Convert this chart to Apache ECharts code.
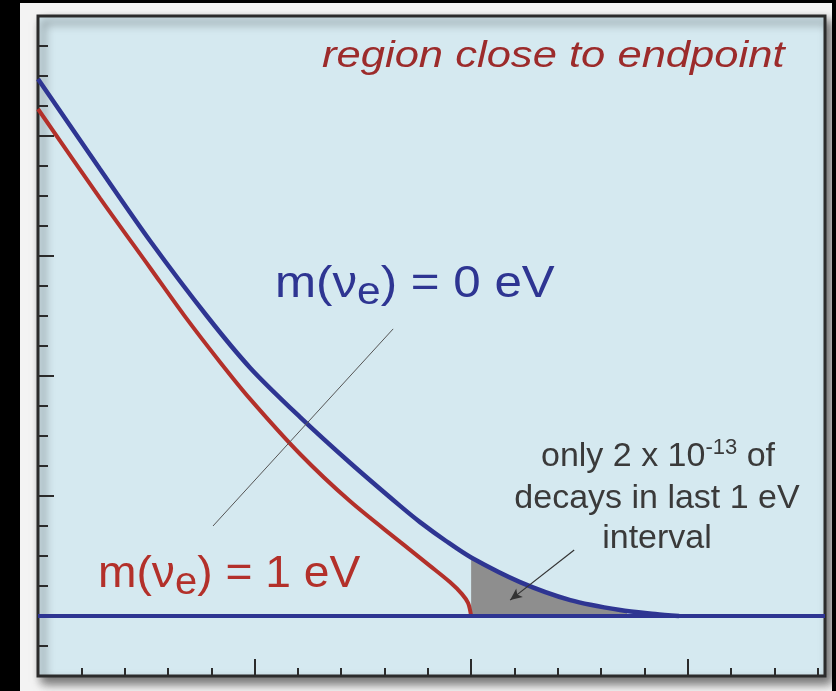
<!DOCTYPE html>
<html>
<head>
<meta charset="utf-8">
<script src="https://cdn.jsdelivr.net/npm/echarts@6/dist/echarts.min.js"></script>
<style>
  html, body { margin: 0; padding: 0; background: #000; }
  #paper { position: absolute; left: 20px; top: 3px; width: 812px; height: 688px; background: #f3f3f3; }
  #chart { position: absolute; left: 0; top: 0; width: 836px; height: 691px; }
</style>
</head>
<body>
<div id="paper"></div>
<div id="chart"></div>
<script>
// Energy in tick units from the left edge of the window; rate in tick units above zero.
// Spectrum for a massless neutrino
const energyZero = [0, 1.43, 2.59, 3.90, 4.90, 6.05, 7.21, 8.36, 8.82, 9.42, 10.0, 11.13, 12.29, 13.44, 14.25, 14.8];
const rateZero   = [17.9, 14.9, 12.5, 10.0, 8.27, 6.63, 5.10, 3.67, 3.13, 2.50, 1.95, 1.13, 0.53, 0.20, 0.07, 0];
// Spectrum for a 1 eV neutrino
const energyOne = [0, 1.43, 2.59, 3.37, 4.20, 4.90, 6.05, 7.20, 8.36, 9.05, 9.51, 9.79, 9.93, 10.0];
const rateOne   = [16.9, 13.93, 11.6, 10.03, 8.47, 7.23, 5.40, 3.83, 2.47, 1.67, 1.13, 0.73, 0.43, 0];
// Last interval below the endpoint (shaded)
const shadedEnergy = [10.0, 11.13, 12.29, 13.44, 13.6];
const shadedRate   = [1.95, 1.13, 0.53, 0.20, 0.17];

const baselineLevel = 0;
const leaderLine = [[4.04, 3.0], [8.2, 9.57]];
const arrowLine  = [[12.38, 2.2], [10.9, 0.53]];

const xRange = [0, 18.17];
const yRange = [-2, 20];
const xMajorTicks = [0, 5, 10, 15];
const yMajorTicks = [0, 4, 8, 12, 16, 20];

const titleText = 'region close to endpoint';
const noteLines = ['only 2 x 10', '-13', ' of', 'decays in last 1 eV', 'interval'];

const BLUE = '#2e3592';
const RED = '#b3302a';
const TICK = '#2b2b2b';
const NOTE = '#3a3a3a';
const FONT = '"Liberation Sans", Arial, sans-serif';
const SMOOTH = 0.3;

const zip = (xs, ys) => xs.map((x, i) => [x, ys[i]]);

const chart = echarts.init(document.getElementById('chart'), null, { renderer: 'canvas' });

function tickAxis(dim, range, tick, extra) {
  return Object.assign({
    type: 'value',
    min: range[0],
    max: range[1],
    position: dim === 'x' ? 'bottom' : 'left',
    axisLine: { show: false, onZero: false },
    axisLabel: { show: false },
    splitLine: { show: false },
    axisTick: Object.assign({ show: true, inside: true, lineStyle: { color: TICK, width: 2 } }, tick)
  }, extra);
}

const option = {
  backgroundColor: 'transparent',
  animation: false,
  grid: {
    left: 38, right: 11, top: 16, bottom: 15,
    outerBoundsMode: 'none',
    show: true,
    backgroundColor: '#d5e9f0',
    borderColor: TICK,
    borderWidth: 3,
    shadowColor: 'rgba(0,0,0,0.55)',
    shadowBlur: 10,
    shadowOffsetX: 5,
    shadowOffsetY: 6
  },
  xAxis: [
    tickAxis('x', xRange, { length: 8 }, { interval: 1 }),
    tickAxis('x', xRange, { length: 17, customValues: xMajorTicks }, { interval: 5 })
  ],
  yAxis: [
    tickAxis('y', yRange, { length: 10 }, { interval: 1 }),
    tickAxis('y', yRange, { length: 16, customValues: yMajorTicks }, {})
  ],
  series: [
    {
      name: 'shaded',
      type: 'line',
      data: zip(shadedEnergy, shadedRate),
      smooth: SMOOTH,
      symbol: 'none',
      silent: true,
      lineStyle: { width: 0 },
      areaStyle: { color: '#8e8e8e', opacity: 1 },
      z: 2
    },
    {
      name: 'm = 1 eV',
      type: 'line',
      data: zip(energyOne, rateOne),
      smooth: SMOOTH,
      symbol: 'none',
      silent: true,
      lineStyle: { color: RED, width: 4 },
      z: 3
    },
    {
      name: 'm = 0 eV',
      type: 'line',
      data: zip(energyZero, rateZero),
      smooth: SMOOTH,
      symbol: 'none',
      silent: true,
      lineStyle: { color: BLUE, width: 4.5 },
      z: 4,
      markLine: {
        silent: true,
        animation: false,
        symbol: ['none', 'none'],
        label: { show: false },
        emphasis: { disabled: true },
        data: [
          { yAxis: baselineLevel, lineStyle: { color: BLUE, width: 4, type: 'solid' } },
          [
            { coord: leaderLine[0], lineStyle: { color: '#555', width: 1, type: 'solid' } },
            { coord: leaderLine[1] }
          ],
          [
            { coord: arrowLine[0], lineStyle: { color: '#333', width: 1.2, type: 'solid' } },
            { coord: arrowLine[1], symbol: 'arrow', symbolSize: [8, 12] }
          ]
        ]
      }
    }
  ],
  graphic: [
    {
      type: 'text', x: 322, y: 57, z: 100, scaleX: 1.21,
      style: {
        text: titleText, fill: '#9c2b2b',
        font: 'italic 36px ' + FONT,
        textAlign: 'left', align: 'left', textVerticalAlign: 'middle', verticalAlign: 'middle'
      }
    },
    {
      type: 'text', x: 275, y: 285, z: 100, scaleX: 1.12,
      style: {
        text: '{a|m(}{n|ν}{s|e}{a|) = 0 eV}',
        fill: BLUE,
        textAlign: 'left', align: 'left', textVerticalAlign: 'middle', verticalAlign: 'middle',
        rich: {
          a: { fontSize: 44, fontFamily: FONT, fill: BLUE, color: BLUE },
          n: { fontSize: 44, fontFamily: FONT, fill: BLUE, color: BLUE },
          s: { fontSize: 38, fontFamily: FONT, fill: BLUE, color: BLUE, padding: [18, 0, 0, 0] }
        }
      }
    },
    {
      type: 'text', x: 98, y: 575, z: 100, scaleX: 1.05,
      style: {
        text: '{a|m(}{n|ν}{s|e}{a|) = 1 eV}',
        fill: RED,
        textAlign: 'left', align: 'left', textVerticalAlign: 'middle', verticalAlign: 'middle',
        rich: {
          a: { fontSize: 44, fontFamily: FONT, fill: RED, color: RED },
          n: { fontSize: 44, fontFamily: FONT, fill: RED, color: RED },
          s: { fontSize: 38, fontFamily: FONT, fill: RED, color: RED, padding: [18, 0, 0, 0] }
        }
      }
    },
    {
      type: 'text', x: 658, y: 457, z: 100,
      style: {
        text: '{a|' + noteLines[0] + '}{p|' + noteLines[1] + '}{a|' + noteLines[2] + '}',
        fill: NOTE,
        textAlign: 'center', align: 'center', textVerticalAlign: 'middle', verticalAlign: 'middle',
        rich: {
          a: { fontSize: 34, fontFamily: FONT, fill: NOTE, color: NOTE },
          p: { fontSize: 22, fontFamily: FONT, fill: NOTE, color: NOTE, padding: [0, 0, 18, 0] }
        }
      }
    },
    {
      type: 'text', x: 657, y: 499, z: 100,
      style: {
        text: noteLines[3], fill: NOTE, font: '34px ' + FONT,
        textAlign: 'center', align: 'center', textVerticalAlign: 'middle', verticalAlign: 'middle'
      }
    },
    {
      type: 'text', x: 657, y: 539, z: 100,
      style: {
        text: noteLines[4], fill: NOTE, font: '34px ' + FONT,
        textAlign: 'center', align: 'center', textVerticalAlign: 'middle', verticalAlign: 'middle'
      }
    }
  ]
};

chart.setOption(option);
</script>
</body>
</html>
